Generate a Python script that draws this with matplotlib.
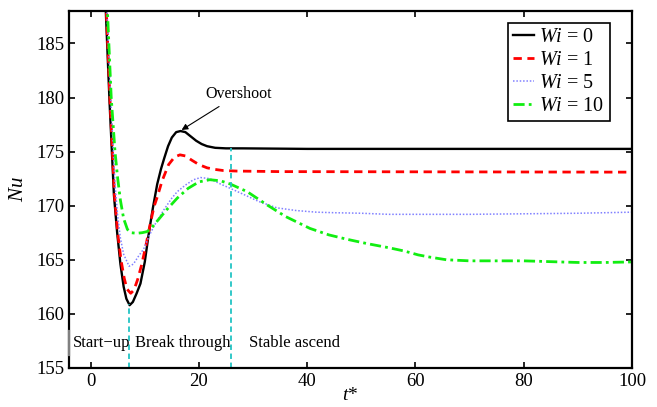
import numpy as np
import matplotlib
matplotlib.use("Agg")
import matplotlib.pyplot as plt

plt.rcParams.update({
    'font.family': 'Liberation Serif',
    'mathtext.fontset': 'custom',
    'mathtext.rm': 'Liberation Serif',
    'mathtext.it': 'Liberation Serif:italic',
    'font.size': 13,
})

# -----------------------
# Data
# -----------------------
t_wi0 = [2.4, 2.8, 3.5, 4.3, 4.9, 5.5, 6.1, 6.6, 7.2, 7.8, 8.5, 9.2, 10.0, 10.7,
         11.5, 12.3, 13.0, 13.6, 14.3, 15.0, 15.8, 16.6, 17.5, 18.5, 19.5, 20.5,
         21.5, 23.0, 25.0, 28.0, 40.0, 60.0, 80.0, 100.0]
nu_wi0 = [192.5, 188.0, 179.5, 171.0, 167.5, 164.6, 162.5, 161.4, 160.8, 161.1,
          161.9, 162.8, 164.8, 167.3, 169.8, 172.0, 173.4, 174.4, 175.5, 176.3,
          176.8, 176.9, 176.8, 176.4, 176.0, 175.7, 175.5, 175.35, 175.3, 175.3,
          175.25, 175.25, 175.25, 175.25]

t_wi1 = [2.5, 2.9, 3.6, 4.4, 5.0, 5.6, 6.2, 6.7, 7.4, 8.0, 8.7, 9.4, 10.2, 11.0,
         11.7, 12.3, 13.2, 14.4, 15.5, 16.5, 17.5, 18.7, 20.0, 21.5, 23.0, 24.5,
         27.0, 35.0, 100.0]
nu_wi1 = [192.5, 188.0, 179.5, 171.0, 167.5, 165.0, 163.3, 162.3, 161.9, 162.2,
          163.2, 164.5, 166.3, 168.3, 169.9, 170.8, 172.3, 173.8, 174.5, 174.7,
          174.6, 174.2, 173.8, 173.5, 173.35, 173.25, 173.2, 173.15, 173.1]

t_wi5 = [2.6, 3.0, 3.7, 4.5, 5.0, 5.5, 6.1, 7.1, 7.9, 8.8, 9.8, 10.8, 11.8, 13.5,
         15.0, 16.0, 17.5, 19.0, 20.3, 22.0, 24.0, 25.8, 28.0, 31.0, 34.4, 38.0,
         41.7, 45.0, 50.0, 55.0, 62.6, 70.0, 80.0, 90.0, 100.0]
nu_wi5 = [192.5, 188.0, 180.0, 172.0, 169.0, 167.0, 165.5, 164.4, 164.6, 165.3,
          166.0, 167.2, 168.2, 169.6, 170.7, 171.3, 171.9, 172.4, 172.6, 172.5,
          172.0, 171.6, 171.1, 170.4, 169.8, 169.55, 169.4, 169.35, 169.3, 169.2,
          169.2, 169.2, 169.25, 169.3, 169.4]

t_wi10 = [2.7, 3.1, 3.8, 4.5, 5.0, 5.5, 6.1, 6.8, 7.5, 8.5, 9.5, 10.4, 11.0, 12.5,
          14.0, 16.0, 18.0, 20.0, 22.0, 24.0, 25.8, 28.9, 32.5, 36.0, 40.5, 44.0,
          47.3, 51.0, 55.2, 58.0, 60.5, 62.6, 65.7, 70.0, 80.0, 86.6, 90.0, 95.0,
          100.0]
nu_wi10 = [192.5, 188.0, 180.0, 175.0, 172.5, 170.5, 168.8, 167.8, 167.5, 167.45,
           167.5, 167.6, 167.8, 168.7, 169.6, 170.7, 171.6, 172.2, 172.4, 172.3,
           172.0, 171.3, 170.1, 169.0, 167.9, 167.3, 166.9, 166.5, 166.1, 165.8,
           165.45, 165.25, 165.0, 164.9, 164.9, 164.8, 164.75, 164.75, 164.8]

# phase boundaries and labels
t_phase = [7.1, 26.0]
phase_labels = ["Start\u2212up", "Break through", "Stable ascend"]
phase_label_x = [-3.3, 8.2, 29.2]

# Plot
# ------------------------------------------------------------------
fig = plt.figure(figsize=(6.57, 4.07), dpi=100)
ax = fig.add_axes([0.105, 0.096, 0.857, 0.877])

ax.plot(t_wi0, nu_wi0, color='k', linewidth=1.7, linestyle='-', label=r'$Wi$ = 0')
ax.plot(t_wi1, nu_wi1, color='red', linewidth=2.0, linestyle=(0, (3, 2)), label=r'$Wi$ = 1')
ax.plot(t_wi5, nu_wi5, color='#8080ff', linewidth=1.1, linestyle=(0, (1, 1.2)), label=r'$Wi$ = 5')
ax.plot(t_wi10, nu_wi10, color='#11ee11', linewidth=2.0, linestyle=(0, (4, 1.5, 1, 1.5)),
        label=r'$Wi$ = 10')

# phase boundaries up to the Wi = 0 curve
tops = np.interp(t_phase, t_wi0, nu_wi0)
ax.vlines(t_phase, 155, tops, colors='#22c4c4', linestyles=(0, (3, 2)), linewidth=1.3)

for lab, xl in zip(phase_labels, phase_label_x):
    ax.text(xl, 157.35, lab, fontsize=12, ha='left', va='center')
ax.plot([-3.95, -3.95], [156.2, 158.4], color='grey', linewidth=1.6, zorder=5, clip_on=False)

ax.annotate("Overshoot", xy=(16.8, 177.0), xytext=(21.2, 180.3), fontsize=11.5,
            ha='left', va='center',
            arrowprops=dict(arrowstyle='-|>', color='k', lw=0.8, mutation_scale=9,
                            shrinkA=2, shrinkB=0))

ax.set_xlim(-4, 100)
ax.set_ylim(155, 188)
ax.set_xticks(np.arange(0, 101, 20))
ax.set_yticks(np.arange(155, 186, 5))
ax.tick_params(direction='in', top=True, right=True, length=4, width=1.2, labelsize=13.5)
for s in ax.spines.values():
    s.set_linewidth(1.6)

ax.set_xlabel(r'$t$*', fontsize=14, labelpad=-2)
ax.set_ylabel(r'$Nu$', fontsize=15, labelpad=6)

leg = ax.legend(loc='upper right', bbox_to_anchor=(0.96, 0.967), fontsize=14.5,
                frameon=True, fancybox=False, edgecolor='k', framealpha=1,
                handlelength=1.05, handletextpad=0.25, labelspacing=0.2,
                borderpad=0.25, borderaxespad=0)
leg.get_frame().set_linewidth(1.2)

fig.savefig("out.png", dpi=100)
